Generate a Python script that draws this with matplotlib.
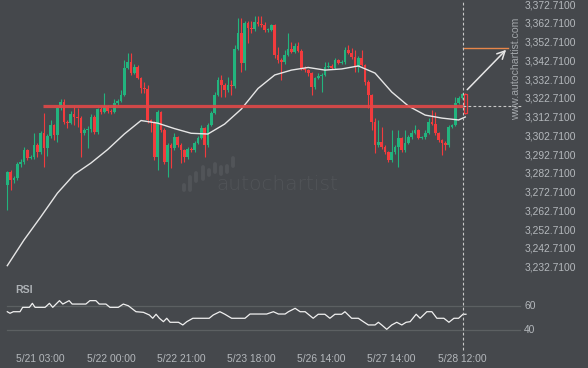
import numpy as np
import matplotlib.pyplot as plt
from matplotlib.transforms import blended_transform_factory

# hourly candles
first_open = 3276.7
closes = [
    3283.6, 3279.4, 3280.4, 3287.9, 3289.0, 3295.4, 3291.1, 3291.6, 3298.0, 3294.3,
    3304.5, 3296.5, 3302.8, 3308.7, 3303.4, 3317.8, 3321.0, 3310.3, 3309.8, 3314.6,
    3313.0, 3312.4, 3304.5, 3306.0, 3306.6, 3313.0, 3305.0, 3317.2, 3315.6, 3318.8,
    3316.2, 3315.6, 3320.4, 3321.5, 3324.7, 3339.1, 3342.3, 3336.4, 3339.6, 3333.8,
    3328.4, 3327.9, 3311.4, 3310.3, 3291.6, 3315.6, 3306.0, 3289.0, 3298.0, 3296.5,
    3302.3, 3298.0, 3295.4, 3291.6, 3295.9, 3295.4, 3299.1, 3301.8, 3307.1, 3298.0,
    3308.7, 3315.1, 3324.7, 3332.7, 3330.0, 3327.4, 3330.0, 3329.5, 3349.2, 3357.8,
    3341.8, 3363.1, 3360.4, 3359.9, 3363.6, 3362.6, 3362.0, 3359.4, 3359.4, 3362.0,
    3346.0, 3343.4, 3342.3, 3346.0, 3349.2, 3347.6, 3350.8, 3348.2, 3339.1, 3338.0,
    3336.4, 3329.0, 3333.8, 3334.8, 3335.4, 3339.6, 3340.2, 3339.1, 3343.4, 3341.8,
    3342.3, 3348.7, 3347.1, 3345.0, 3339.6, 3344.4, 3340.7, 3331.6, 3324.7, 3310.3,
    3298.0, 3299.6, 3297.0, 3294.3, 3290.0, 3294.3, 3297.0, 3301.8, 3295.4, 3299.1,
    3302.3, 3304.5, 3306.0, 3301.8, 3302.3, 3304.5, 3310.3, 3309.2, 3304.5, 3300.7,
    3299.1, 3298.0, 3307.6, 3308.7, 3320.4, 3323.1, 3325.2, 3315.1,
]
highs = [
    3284.2, 3284.5, 3281.5, 3288.8, 3290.5, 3296.8, 3296.0, 3292.5, 3304.6, 3299.0,
    3305.5, 3315.3, 3304.0, 3311.5, 3309.5, 3318.5, 3322.4, 3322.4, 3311.5, 3316.0,
    3318.3, 3317.8, 3313.5, 3307.0, 3308.0, 3314.5, 3314.0, 3318.0, 3318.2, 3325.6,
    3319.5, 3317.0, 3322.5, 3322.5, 3327.4, 3343.4, 3346.9, 3347.1, 3341.0, 3340.5,
    3334.5, 3331.6, 3330.0, 3312.0, 3311.0, 3316.5, 3316.2, 3307.0, 3299.0, 3299.0,
    3304.5, 3303.0, 3299.0, 3296.0, 3296.8, 3297.0, 3300.0, 3302.8, 3308.5, 3307.6,
    3309.8, 3316.0, 3326.3, 3334.3, 3335.4, 3331.0, 3334.3, 3332.7, 3351.4, 3365.8,
    3365.8, 3364.0, 3364.0, 3364.2, 3366.8, 3366.8, 3366.8, 3363.6, 3360.5, 3362.8,
    3362.8, 3350.3, 3344.5, 3348.7, 3357.8, 3353.0, 3352.4, 3353.0, 3349.0, 3340.0,
    3338.8, 3337.0, 3334.5, 3336.5, 3336.5, 3342.3, 3342.3, 3341.0, 3344.5, 3344.0,
    3343.5, 3350.3, 3351.4, 3349.8, 3348.7, 3345.5, 3348.7, 3341.5, 3332.5, 3325.5,
    3312.4, 3311.4, 3307.6, 3298.0, 3295.0, 3306.0, 3298.0, 3306.0, 3302.5, 3306.0,
    3303.2, 3306.0, 3308.7, 3306.8, 3303.0, 3306.0, 3312.4, 3316.7, 3315.7, 3305.2,
    3301.5, 3300.0, 3308.5, 3309.5, 3323.6, 3324.0, 3325.8, 3325.8,
]
lows = [
    3263.4, 3274.1, 3278.0, 3279.5, 3286.5, 3288.0, 3290.0, 3290.5, 3290.8, 3291.8,
    3293.0, 3286.5, 3292.0, 3302.0, 3300.5, 3299.9, 3316.5, 3309.5, 3307.1, 3309.0,
    3308.7, 3307.6, 3291.8, 3303.5, 3296.5, 3305.0, 3304.0, 3304.0, 3314.8, 3315.0,
    3315.0, 3314.8, 3315.0, 3319.5, 3320.8, 3324.0, 3338.5, 3335.5, 3335.8, 3333.0,
    3326.0, 3325.8, 3310.0, 3305.0, 3290.0, 3284.7, 3305.0, 3288.0, 3281.0, 3285.8,
    3295.5, 3297.0, 3288.5, 3289.0, 3290.5, 3294.5, 3294.5, 3298.5, 3301.0, 3291.6,
    3297.0, 3308.0, 3314.5, 3324.0, 3323.6, 3323.6, 3326.5, 3324.7, 3328.5, 3348.5,
    3337.0, 3338.0, 3352.4, 3357.8, 3359.0, 3361.5, 3361.0, 3358.5, 3358.5, 3359.0,
    3344.4, 3341.8, 3332.7, 3341.5, 3345.5, 3347.0, 3347.0, 3347.5, 3338.0, 3337.0,
    3335.0, 3324.7, 3328.0, 3333.0, 3326.3, 3334.8, 3339.0, 3338.5, 3338.5, 3341.0,
    3341.0, 3341.5, 3346.5, 3344.0, 3337.0, 3337.0, 3340.0, 3330.0, 3317.8, 3306.0,
    3293.8, 3297.0, 3296.0, 3293.5, 3289.0, 3289.0, 3293.5, 3286.3, 3294.5, 3294.5,
    3298.5, 3301.5, 3303.8, 3301.0, 3301.0, 3301.5, 3304.0, 3308.5, 3303.5, 3299.8,
    3292.7, 3295.4, 3297.0, 3307.0, 3308.0, 3319.8, 3322.5, 3314.5,
]

# moving average (white line)
ma_idx = [0, 5, 10, 15, 20, 25, 30, 35, 40, 45, 50, 55, 60, 65, 70, 75, 80, 85, 90,
          95, 100, 105, 110, 115, 120, 125, 130, 135, 137]
ma_val = [3233.7, 3247.4, 3259.7, 3272.4, 3282.3, 3288.4, 3295.6, 3303.9, 3311.1,
          3309.7, 3306.8, 3304.3, 3303.9, 3309.2, 3317.2, 3328.2, 3335.4, 3338.0,
          3339.4, 3338.0, 3338.6, 3340.2, 3336.4, 3326.3, 3318.8, 3314.0, 3312.4,
          3311.4, 3313.0]

# RSI panel
rsi_idx = [0, 0.8, 1.8, 3.8, 4.6, 6.6, 7.5, 8.3, 11.3, 12.6, 13.6, 15.6, 16.6, 18.5,
           19.4, 23.5, 24.7, 26.5, 27.5, 29.5, 30.7, 33.2, 34.7, 36.2, 38.5, 40.7,
           42.5, 43.5, 44.5, 45.5, 46.7, 47.7, 48.7, 51.2, 52.5, 53.7, 55.5, 60.4,
           61.6, 63.6, 65.1, 67.1, 71.1, 72.6, 77.6, 79.6, 81.1, 83.1, 84.1, 86.1,
           87.6, 89.1, 91.5, 93.0, 95.0, 96.5, 98.0, 100.0, 101.0, 103.0, 105.0,
           106.5, 108.0, 110.0, 111.0, 112.0, 113.5, 115.0, 116.5, 118.0, 119.3,
           120.5, 122.3, 123.5, 125.5, 127.0, 128.5, 130.6, 132.1, 133.6, 135.0,
           136.3, 137.2]
rsi_val = [55.3, 54.0, 55.3, 55.3, 58.9, 58.9, 62.2, 58.9, 58.9, 62.2, 58.9, 64.4,
           61.6, 64.4, 61.6, 61.6, 64.4, 64.4, 61.6, 61.6, 58.9, 58.9, 61.6, 60.2,
           55.3, 54.8, 52.6, 49.9, 53.2, 49.9, 47.1, 49.9, 46.6, 46.6, 44.4, 47.1,
           49.9, 49.9, 52.6, 55.3, 53.2, 49.9, 49.9, 53.4, 53.4, 55.3, 53.4, 53.4,
           55.3, 58.1, 55.3, 55.3, 49.9, 53.2, 53.2, 49.9, 53.2, 53.2, 55.3, 49.9,
           49.9, 47.1, 44.4, 44.4, 46.6, 44.4, 40.8, 44.4, 46.6, 44.4, 46.6, 47.1,
           53.2, 49.9, 55.3, 55.3, 49.9, 49.9, 46.6, 49.9, 49.9, 53.2, 53.2]

price_ticks = [3232.71, 3242.71, 3252.71, 3262.71, 3272.71, 3282.71, 3292.71,
               3302.71, 3312.71, 3322.71, 3332.71, 3342.71, 3352.71, 3362.71, 3372.71]
time_idx = [10, 31, 52, 73, 94, 115, 136]
time_labels = ['5/21 03:00', '5/22 00:00', '5/22 21:00', '5/23 18:00',
               '5/26 14:00', '5/27 14:00', '5/28 12:00']

level = 3319.1
level_start = 10.6
signal_idx = 136.2
target_idx = 149.8
target = 3349.9
arrow_start = 3326.5

BG = '#45484c'
GREEN = '#22b47e'
RED = '#f23b3d'
TXT = '#b4b8bc'

plt.rcParams['font.family'] = ['Liberation Sans', 'DejaVu Sans']

fig = plt.figure(figsize=(5.88, 3.68), dpi=100, facecolor=BG)
W, H = 588, 368
ax = fig.add_axes([0, 1 - 280 / H, 1, 280 / H], facecolor=BG)
ax_r = fig.add_axes([0, 1 - 345 / H, 1, 63 / H], facecolor=BG, sharex=ax)

opens = [first_open] + closes[:-1]
n = len(closes)
for i in range(n):
    o, c = opens[i], closes[i]
    col = GREEN if c >= o else RED
    ax.vlines(i, lows[i], highs[i], color=col, lw=0.8, zorder=2)
    h = max(abs(c - o), 0.35)
    if i == n - 1:
        ax.bar(i, h, bottom=min(o, c), width=0.85, facecolor=BG, edgecolor=col,
               lw=0.9, zorder=3)
    else:
        ax.bar(i, h, bottom=min(o, c), width=0.8, color=col, lw=0, zorder=3)

ax.plot(ma_idx, ma_val, color='#e6e6e6', lw=1.0, zorder=4)
ax.plot([level_start, signal_idx], [level, level], color='#e04848', lw=2.3,
        alpha=0.9, zorder=5, solid_capstyle='butt')
ax.plot([signal_idx, 153.7], [level, level], color='#c8c8c8', lw=0.8,
        ls=(0, (2.5, 2)), zorder=5)
ax.plot([signal_idx, target_idx], [target, target], color='#e8864a', lw=1.0,
        zorder=5)
ax.annotate('', xy=(target_idx, target), xytext=(n - 1, arrow_start),
            arrowprops=dict(arrowstyle='->', color='#e6e6e6', lw=1.1,
                            mutation_scale=14), zorder=6)

# watermark logo + text
wm = '#515458'
logo_x = [184, 190, 196, 203, 209, 215, 221, 227, 233]
logo_y = [(185, 190), (177, 190), (173, 181), (167, 179), (170, 175),
          (164, 172), (167, 174), (166, 172), (158, 166)]
for lx, (y0, y1) in zip(logo_x, logo_y):
    fig.add_artist(plt.Line2D([lx / W, lx / W], [1 - y1 / H, 1 - y0 / H],
                              color=wm, lw=2.8, solid_capstyle='round'))
fig.text(277 / W, 1 - 185 / H, 'autochartist', color=wm, fontsize=14.5,
         family='DejaVu Sans', weight='light', ha='center', va='center')
fig.text(516 / W, 1 - 69 / H, 'www.autochartist.com', color='#a2a6aa',
         fontsize=7.6, rotation=90, ha='center', va='center')

trans = blended_transform_factory(ax.transAxes, ax.transData)
for p in price_ticks:
    ax.text(576 / W, p, f'{p:,.4f}', transform=trans, ha='right', va='center',
            color=TXT, fontsize=7.4)

ax.set_xlim(-7.3 / 3.343, (W - 7.3) / 3.343)
ax.set_ylim(3375.38 - 280 / 1.875, 3375.38)
ax.axis('off')

# RSI
for lv in (60, 40):
    ax_r.plot([0, 153.5], [lv, lv], color='#5c6062', lw=0.9, zorder=1)
    ax_r.text(154.6, lv, str(lv), color=TXT, fontsize=7.4, va='center', ha='left')
ax_r.plot(rsi_idx, rsi_val, color='#f0f0f0', lw=0.9, zorder=3)
ax_r.text(2.3, 73.5, 'RSI', color='#aeb2b6', fontsize=7.6, weight='bold',
          va='center', ha='left')
ax_r.set_ylim(60 - 39 / 1.215, 60 + 24 / 1.215)
ax_r.set_xticks(time_idx)
ax_r.set_xticklabels(time_labels)
ax_r.tick_params(axis='x', length=0, pad=6.5, labelsize=7.4, colors=TXT)
ax_r.tick_params(axis='y', left=False, labelleft=False)
for s in ax_r.spines.values():
    s.set_visible(False)

# dashed vertical at signal time
fig.add_artist(plt.Line2D([(7.3 + signal_idx * 3.343) / W] * 2, [1 - 350 / H, 1],
                          color='#c8c8c8', lw=0.8, ls=(0, (2.5, 2))))

fig.savefig('out.png', dpi=100, facecolor=BG)
